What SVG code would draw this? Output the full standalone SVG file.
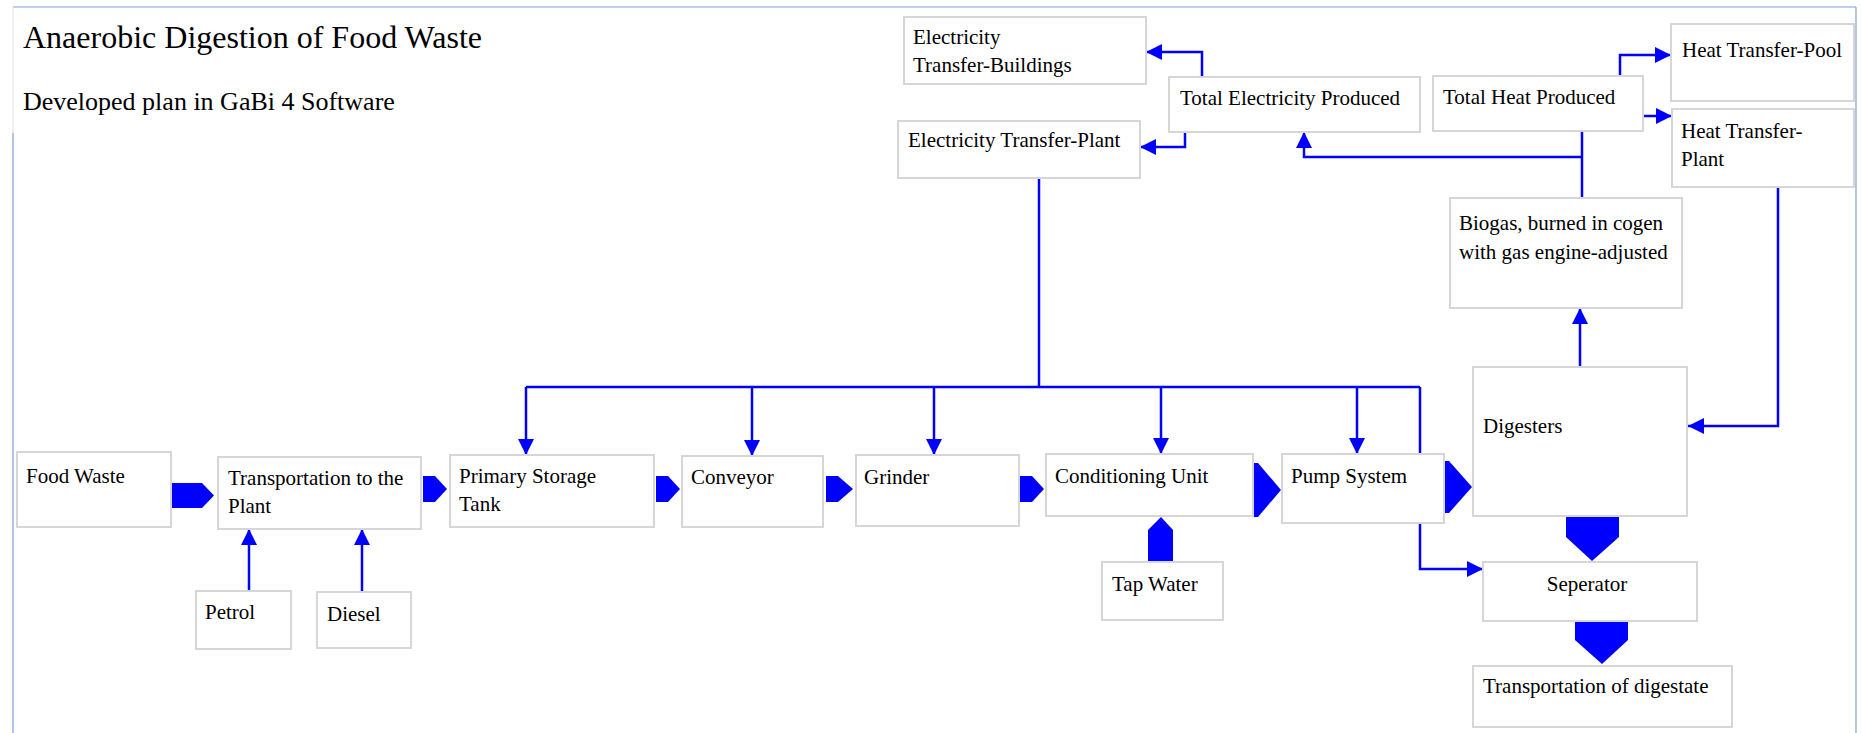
<svg xmlns="http://www.w3.org/2000/svg" width="1861" height="733" viewBox="0 0 1861 733">
<style>
.box{fill:#ffffff;stroke:#d6d6d6;stroke-width:2}
.t{font-family:"Liberation Serif","Times New Roman",serif;font-size:21px;fill:#000000}
.title{font-family:"Liberation Serif","Times New Roman",serif;font-size:32px;fill:#000000}
.sub{font-family:"Liberation Serif","Times New Roman",serif;font-size:26px;fill:#000000}
.ln{fill:none;stroke:#0000ff;stroke-width:2.5}
.arr{marker-end:url(#ah)}
.blk{fill:#0000ff;stroke:none}
.frame{stroke:#7f9fd8;stroke-width:1.2;fill:none}
</style>
<defs>
<marker id="ah" markerUnits="userSpaceOnUse" markerWidth="16" markerHeight="16" viewBox="0 0 16 16" refX="16" refY="8" orient="auto">
<path d="M0,0 L16,8 L0,16 z" fill="#0000ff"/>
</marker>
</defs>
<rect x="0" y="0" width="1861" height="733" fill="#ffffff"/>
<g id="frame">
<line class="frame" x1="13" y1="7" x2="1856" y2="7"/>
<line x1="13" y1="7" x2="13" y2="133" stroke="#e4e4e4" stroke-width="1.2"/>
<line class="frame" x1="13" y1="133" x2="13" y2="733"/>
<line class="frame" x1="1856" y1="7" x2="1856" y2="733"/>
</g>
<g id="titles">
<text class="title" x="23" y="48">Anaerobic Digestion of Food Waste</text>
<text class="sub" x="23" y="110">Developed plan in GaBi 4 Software</text>
</g>
<g id="connectors">
<!-- block arrows -->
<polygon class="blk" points="172,483 202,483 214,495.5 202,508 172,508"/>
<polygon class="blk" points="423,476 435,476 447,489 435,502 423,502"/>
<polygon class="blk" points="656,476 668,476 680,489 668,502 656,502"/>
<polygon class="blk" points="826,476 838,476 853,489 838,502 826,502"/>
<polygon class="blk" points="1020,476 1032,476 1044,489 1032,502 1020,502"/>
<polygon class="blk" points="1254,463 1258,463 1281,490 1258,517 1254,517"/>
<polygon class="blk" points="1445,461 1449,461 1472,487 1449,513 1445,513"/>
<polygon class="blk" points="1566,517 1619,517 1619,537 1592,561 1566,537"/>
<polygon class="blk" points="1575,622 1628,622 1628,640 1602,664 1575,640"/>
<polygon class="blk" points="1148,562 1148,530 1161,517 1173,530 1173,562"/>
<!-- line connectors -->
<line class="ln arr" x1="249" y1="591" x2="249" y2="529"/>
<line class="ln arr" x1="362" y1="592" x2="362" y2="529"/>
<polyline class="ln" points="1039,178 1039,387"/>
<line class="ln" x1="526" y1="387" x2="1420" y2="387"/>
<line class="ln arr" x1="526" y1="387" x2="526" y2="455"/>
<line class="ln arr" x1="752" y1="387" x2="752" y2="456"/>
<line class="ln arr" x1="934" y1="387" x2="934" y2="455"/>
<line class="ln arr" x1="1161" y1="387" x2="1161" y2="454"/>
<line class="ln arr" x1="1357" y1="387" x2="1357" y2="454"/>
<polyline class="ln arr" points="1420,387 1420,569 1483,569"/>
<polyline class="ln arr" points="1202,77 1202,52 1146,52"/>
<polyline class="ln arr" points="1185,132 1185,147 1140,147"/>
<polyline class="ln" points="1582,131 1582,198"/>
<polyline class="ln arr" points="1582,157 1304,157 1304,132"/>
<polyline class="ln arr" points="1620,76 1620,55 1671,55"/>
<line class="ln arr" x1="1643" y1="116" x2="1672" y2="116"/>
<polyline class="ln arr" points="1778,187 1778,426 1688,426"/>
<line class="ln arr" x1="1580" y1="367" x2="1580" y2="308"/>
</g>
<g id="n-foodwaste"><rect class="box" x="17" y="452" width="154" height="75"/><text class="t" x="26" y="483">Food Waste</text></g>
<g id="n-transport"><rect class="box" x="218" y="457" width="203" height="72"/><text class="t" x="228" y="485">Transportation to the</text><text class="t" x="228" y="513">Plant</text></g>
<g id="n-primary"><rect class="box" x="450" y="455" width="204" height="72"/><text class="t" x="459" y="483">Primary Storage</text><text class="t" x="459" y="511">Tank</text></g>
<g id="n-conveyor"><rect class="box" x="682" y="456" width="141" height="71"/><text class="t" x="691" y="484">Conveyor</text></g>
<g id="n-grinder"><rect class="box" x="856" y="455" width="163" height="71"/><text class="t" x="864" y="484">Grinder</text></g>
<g id="n-conditioning"><rect class="box" x="1046" y="454" width="207" height="62"/><text class="t" x="1055" y="483">Conditioning Unit</text></g>
<g id="n-pump"><rect class="box" x="1282" y="454" width="162" height="69"/><text class="t" x="1291" y="483">Pump System</text></g>
<g id="n-digesters"><rect class="box" x="1473" y="367" width="214" height="149"/><text class="t" x="1483" y="433">Digesters</text></g>
<g id="n-seperator"><rect class="box" x="1483" y="562" width="214" height="59"/><text class="t" x="1587" y="591" text-anchor="middle">Seperator</text></g>
<g id="n-digestate"><rect class="box" x="1473" y="666" width="259" height="61"/><text class="t" x="1483" y="693">Transportation of digestate</text></g>
<g id="n-tapwater"><rect class="box" x="1102" y="562" width="121" height="58"/><text class="t" x="1112" y="591">Tap Water</text></g>
<g id="n-petrol"><rect class="box" x="196" y="591" width="95" height="58"/><text class="t" x="205" y="619">Petrol</text></g>
<g id="n-diesel"><rect class="box" x="317" y="592" width="94" height="56"/><text class="t" x="327" y="621">Diesel</text></g>
<g id="n-elec-buildings"><rect class="box" x="904" y="17" width="242" height="67"/><text class="t" x="913" y="44">Electricity</text><text class="t" x="913" y="72">Transfer-Buildings</text></g>
<g id="n-elec-plant"><rect class="box" x="898" y="121" width="242" height="57"/><text class="t" x="908" y="147">Electricity Transfer-Plant</text></g>
<g id="n-total-elec"><rect class="box" x="1169" y="77" width="251" height="55"/><text class="t" x="1180" y="105">Total Electricity Produced</text></g>
<g id="n-total-heat"><rect class="box" x="1433" y="76" width="210" height="55"/><text class="t" x="1443" y="104">Total Heat Produced</text></g>
<g id="n-heat-pool"><rect class="box" x="1671" y="24" width="183" height="77"/><text class="t" x="1682" y="57">Heat Transfer-Pool</text></g>
<g id="n-heat-plant"><rect class="box" x="1672" y="109" width="182" height="78"/><text class="t" x="1681" y="138">Heat Transfer-</text><text class="t" x="1681" y="166">Plant</text></g>
<g id="n-biogas"><rect class="box" x="1450" y="198" width="232" height="110"/><text class="t" x="1459" y="230">Biogas, burned in cogen</text><text class="t" x="1459" y="259">with gas engine-adjusted</text></g>
</svg>
